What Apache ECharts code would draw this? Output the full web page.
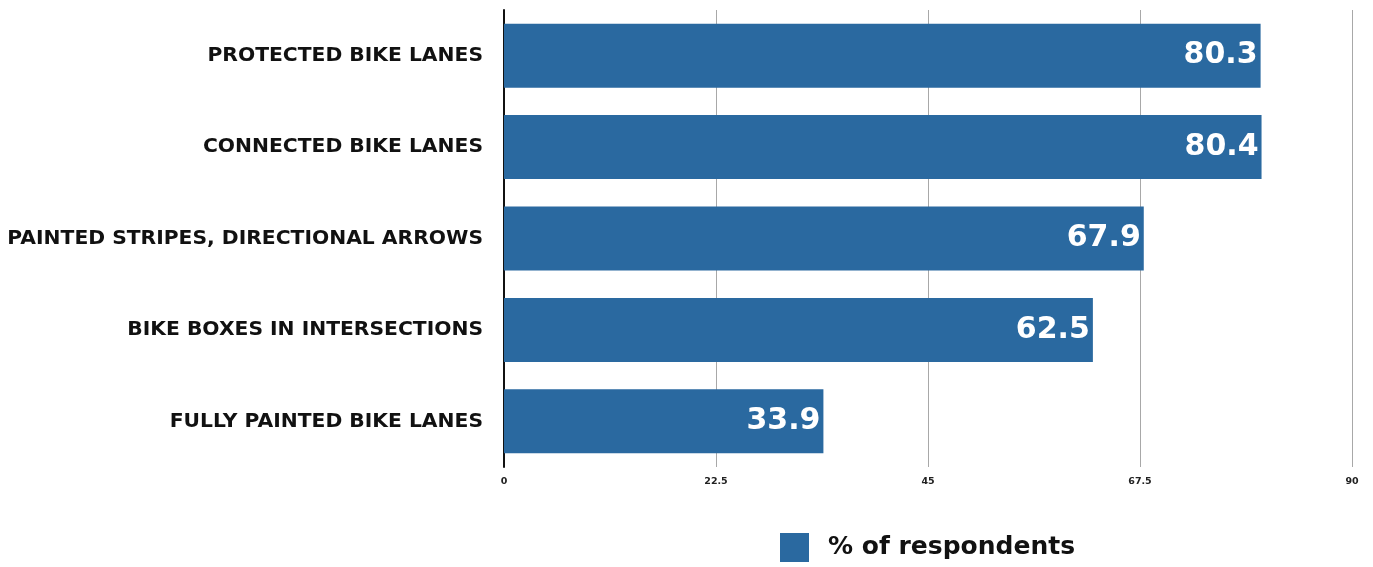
<!DOCTYPE html>
<html><head><meta charset="utf-8">
<script src="https://cdn.jsdelivr.net/npm/echarts@6/dist/echarts.min.js"></script>
<style>html,body{margin:0;padding:0;background:#fff}#c{width:1373px;height:567px}</style>
</head><body><div id="c"></div>
<script>
const categories = ["PROTECTED BIKE LANES","CONNECTED BIKE LANES","PAINTED STRIPES, DIRECTIONAL ARROWS","BIKE BOXES IN INTERSECTIONS","FULLY PAINTED BIKE LANES"];
const values = [80.3, 80.4, 67.9, 62.5, 33.9];
const tickLabels = ["0","22.5","45","67.5","90"];
const seriesName = "% of respondents";

const FONT = 'DejaVu Sans';
const chart = echarts.init(document.getElementById('c'));
chart.setOption({
  animation:false,
  grid:{left:504,right:21,top:10,bottom:100,containLabel:false},
  xAxis:{type:'value',min:0,max:90,interval:22.5,
    axisLine:{show:false},axisTick:{show:false},
    splitLine:{show:true,lineStyle:{color:'#a8a8a8',width:1}},
    axisLabel:{margin:10,color:'#222',fontSize:9.5,fontWeight:'bold',fontFamily:FONT,
      formatter:(v)=>{const i=Math.round(v/22.5);return tickLabels[i]!==undefined?tickLabels[i]:'';}}
  },
  yAxis:{type:'category',data:categories,inverse:true,
    axisLine:{show:true,lineStyle:{color:'#111',width:2}},axisTick:{show:false},
    axisLabel:{margin:21,color:'#111',fontSize:20.3,fontWeight:'bold',fontFamily:FONT}
  },
  legend:{bottom:0,left:775,itemWidth:29,itemHeight:29,itemGap:10,icon:'rect',
    textStyle:{fontSize:25,fontWeight:'bold',color:'#111',fontFamily:FONT,padding:[0,0,0,14]},
    data:[seriesName]},
  series:[{name:seriesName,type:'bar',data:values,barWidth:64,
    itemStyle:{color:'#2a69a0'},
    label:{show:true,position:'insideRight',distance:3,color:'#fff',fontSize:30,fontWeight:'bold',fontFamily:FONT}
  }]
});
</script></body></html>
